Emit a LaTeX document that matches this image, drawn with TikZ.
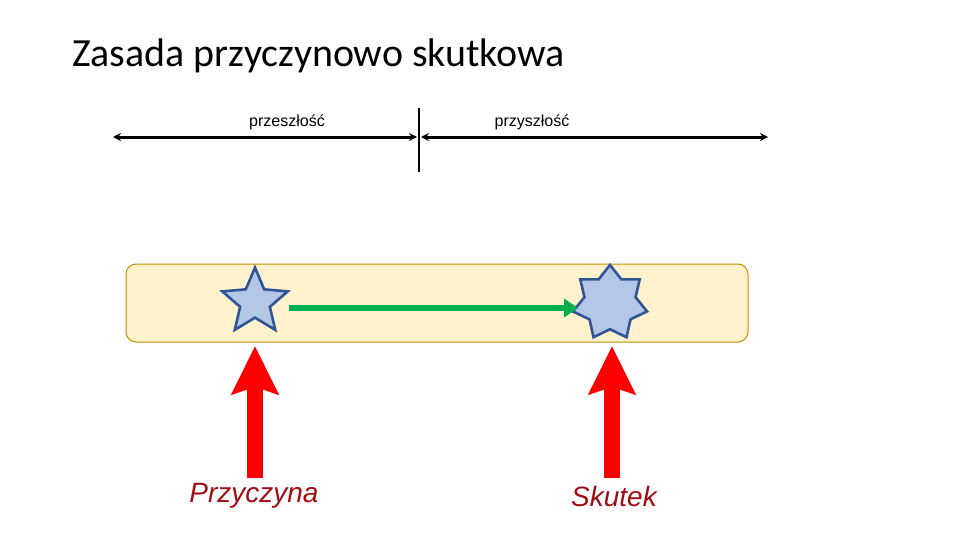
\documentclass[tikz,border=0pt]{standalone}
\usepackage{fontspec}
\setmainfont{Liberation Sans}
\newfontfamily\titlefont{Carlito}
\usetikzlibrary{arrows.meta,shapes.geometric}
\definecolor{boxfill}{HTML}{FFF2CC}
\definecolor{boxline}{HTML}{BF9000}
\definecolor{starfill}{HTML}{B4C7E7}
\definecolor{starline}{HTML}{2F5597}
\definecolor{flowgreen}{HTML}{00B050}
\definecolor{labelred}{HTML}{A00E14}

\begin{document}
\begin{tikzpicture}[x=0.025cm,y=-0.025cm,
	timeline/.style={line width=0.075cm,{Stealth[length=0.2cm,width=0.2cm]}-{Stealth[length=0.2cm,width=0.2cm]}},
	starnode/.style={star,draw=starline,fill=starfill,line width=0.065cm,inner sep=0pt},
	push/.style={red,line width=0.4cm,-{Stealth[length=1.2cm,width=1.15cm,inset=0.18cm]}},
	flow/.style={flowgreen,line width=0.17cm,-{Triangle[length=0.35cm,width=0.45cm]}},
	tag/.style={font=\fontsize{11.4pt}{13pt}\selectfont},
	pushlabel/.style={text=labelred,font=\fontsize{19.9pt}{22pt}\selectfont\itshape}]
		%%%%% START %%%%%
		\useasboundingbox (0,0) rectangle (960,540);
		\node[anchor=base west,inner sep=0pt,font=\titlefont\fontsize{28.4pt}{32pt}\selectfont] (title) at (72,66) {Zasada przyczynowo skutkowa};
		
		% time axis
		\coordinate (past) at (113,137);
		\coordinate (nowleft) at (417,137);
		\coordinate (nowright) at (421,137);
		\coordinate (future) at (768,137);
		\draw[timeline] (past) -- (nowleft);
		\draw[timeline] (nowright) -- (future);
		\draw[line width=0.03cm] (419,108) -- (419,172);
		\node[tag] (pastlbl) at (287,122) {przeszłość};
		\node[tag] (futurelbl) at (532,122) {przyszłość};
		
		% band
		\draw[fill=boxfill,draw=boxline,line width=0.025cm,rounded corners=0.25cm] (126,264) rectangle (748,342);
		
		\node[starnode,star points=5,star point ratio=2.2,minimum size=1.72cm] (cause) at (255,302) {};
		\node[starnode,star points=7,star point ratio=1.45,minimum size=1.9cm] (effect) at (610,303) {};
		\draw[flow,shorten <=0.28cm] (cause.east |- 0,308) -- (effect.west |- 0,308);
		
		% pushes
		\coordinate (causebase) at (255,478);
		\coordinate (causetip) at (255,346);
		\coordinate (effectbase) at (612,478);
		\coordinate (effecttip) at (612,346);
		\draw[push] (causebase) -- (causetip);
		\draw[push] (effectbase) -- (effecttip);
		\node[pushlabel] (causelbl) at (254,496) {Przyczyna};
		\node[pushlabel] (effectlbl) at (614,496) {Skutek};
		%%%%% END %%%%%
	\end{tikzpicture}
\end{document}
